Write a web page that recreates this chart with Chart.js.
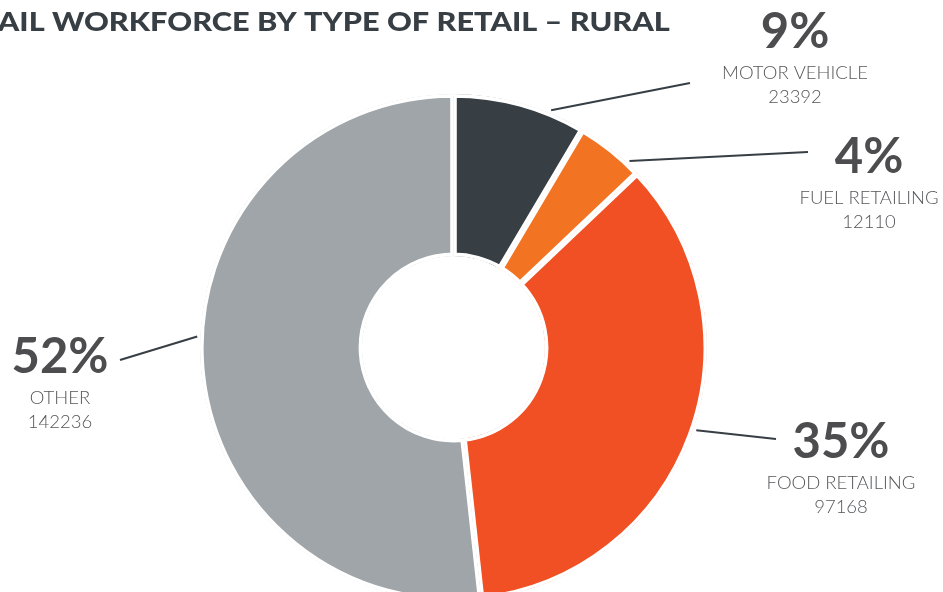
<!DOCTYPE html>
<html>
<head>
<meta charset="utf-8">
<script src="https://cdn.jsdelivr.net/npm/chart.js@4.4.1/dist/chart.umd.min.js"></script>
<style>
  html, body { margin: 0; padding: 0; background: #fff; overflow: hidden; }
  #wrap { width: 943px; height: 592px; overflow: hidden; position: relative; }
  canvas { display: block; }
</style>
</head>
<body>
<div id="wrap"><canvas id="workforce" width="943" height="610"></canvas></div>
<script>
const categories = ["MOTOR VEHICLE", "FUEL RETAILING", "FOOD RETAILING", "OTHER"];
const workers = [23392, 12110, 97168, 142236];
const colors = ["#373e44", "#f27322", "#f05023", "#9fa5a8"];
const title = "RETAIL WORKFORCE BY TYPE OF RETAIL – RURAL";

// where each callout sits: point along the slice (0..1), end of the leader line, text centre
const callouts = [
    { along: 0.73, lineEnd: [690, 83],  x: 795, y: 48 },
    { along: 0.80, lineEnd: [808, 152], x: 869, y: 173 },
    { along: 0.49, lineEnd: [776, 439], x: 841, y: 458 },
    { along: 0.53, lineEnd: [120, 360], x: 60,  y: 373 }
];

const total = workers.reduce((a, b) => a + b, 0);

const calloutPlugin = {
    id: "callouts",
    afterDraw(chart) {
        const ctx = chart.ctx;
        const arcs = chart.getDatasetMeta(0).data;
        ctx.save();

        // title, running off the left edge
        ctx.font = "900 26px Lato, sans-serif";
        ctx.fillStyle = "#373e44";
        ctx.textBaseline = "alphabetic";
        ctx.textAlign = "left";
        const hidden = ctx.measureText("RET").width;
        const shown = ctx.measureText(title.slice(3)).width;
        const sx = 672 / shown;
        ctx.save();
        ctx.scale(sx, 1);
        ctx.fillText(title, -hidden, 31);
        ctx.restore();

        arcs.forEach((arc, i) => {
            const c = callouts[i];
            const a = arc.startAngle + (arc.endAngle - arc.startAngle) * c.along;
            const r = arc.outerRadius + 3;
            ctx.beginPath();
            ctx.moveTo(arc.x + Math.cos(a) * r, arc.y + Math.sin(a) * r);
            ctx.lineTo(c.lineEnd[0], c.lineEnd[1]);
            ctx.strokeStyle = "#373e44";
            ctx.lineWidth = 2;
            ctx.stroke();

            ctx.textAlign = "center";
            ctx.fillStyle = "#4d4d4f";
            ctx.font = "bold 49px Lato, sans-serif";
            ctx.fillText(Math.round(workers[i] / total * 100) + "%", c.x, c.y);
            ctx.fillStyle = "#555659";
            ctx.font = "300 18.5px Lato, sans-serif";
            ctx.fillText(categories[i], c.x, c.y + 31);
            ctx.fillText(String(workers[i]), c.x, c.y + 55);
        });
        ctx.restore();
    }
};

new Chart(document.getElementById("workforce"), {
    type: "doughnut",
    data: {
        labels: categories,
        datasets: [{
            data: workers,
            backgroundColor: colors,
            borderColor: "#ffffff",
            borderWidth: 3.3,
            borderAlign: "inner",
            hoverOffset: 0
        }]
    },
    options: {
        responsive: false,
        animation: false,
        cutout: "36%",
        layout: { padding: { left: 200, right: 236, top: 94, bottom: 9 } },
        plugins: {
            legend: { display: false },
            tooltip: { enabled: false },
            title: { display: false }
        }
    },
    plugins: [calloutPlugin]
});
</script>
</body>
</html>
